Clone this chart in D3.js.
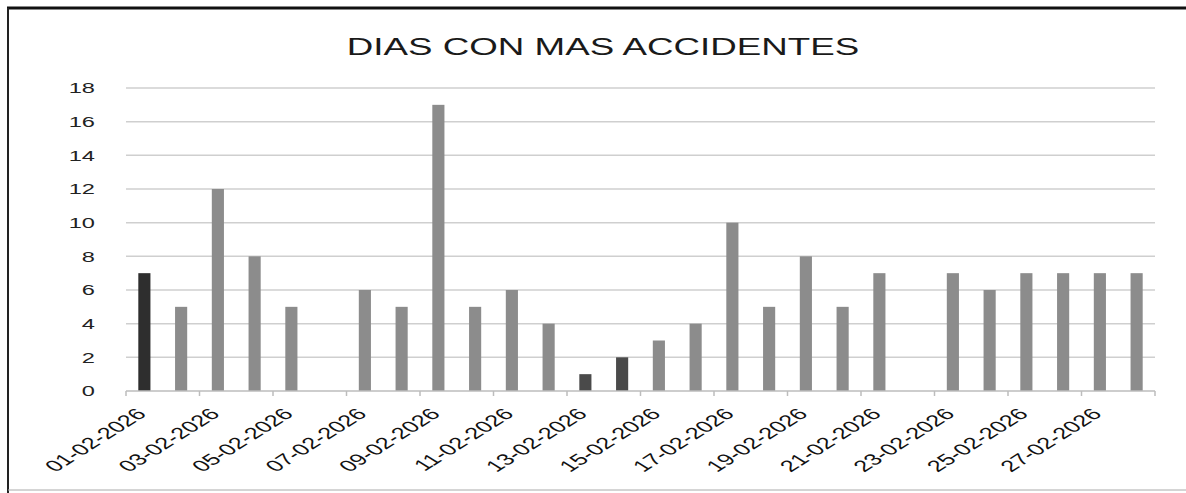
<!DOCTYPE html>
<html>
<head>
<meta charset="utf-8">
<script src="https://cdn.jsdelivr.net/npm/d3@7"></script>
<style>
  body { margin: 0; background: #fff; }
  text { font-family: "Liberation Sans", Arial, sans-serif; }
</style>
</head>
<body>
<script>
const width = 1186,
        height = 493

// chart data
const title = 'DIAS CON MAS ACCIDENTES'
const days = ['01-02-2026','02-02-2026','03-02-2026','04-02-2026','05-02-2026','06-02-2026','07-02-2026',
    '08-02-2026','09-02-2026','10-02-2026','11-02-2026','12-02-2026','13-02-2026','14-02-2026',
    '15-02-2026','16-02-2026','17-02-2026','18-02-2026','19-02-2026','20-02-2026','21-02-2026',
    '22-02-2026','23-02-2026','24-02-2026','25-02-2026','26-02-2026','27-02-2026','28-02-2026']
const accidents = [7, 5, 12, 8, 5, 0, 6, 5, 17, 5, 6, 4, 1, 2, 3, 4, 10, 5, 8, 5, 7, 0, 7, 6, 7, 7, 7, 7]
const yTicks = [0, 2, 4, 6, 8, 10, 12, 14, 16, 18]
// bars that came out darker in the scan
const darkDays = ['01-02-2026', '13-02-2026', '14-02-2026']

// the scanned chart is stretched sideways, so the text is too
const stretch = 'scale(1.75,1.1)'

const data = days.map((d, i) => ({ day: d, value: accidents[i] }))

const svg = d3.select('body').append('svg')
    .attr('width', width)
    .attr('height', height)

const x = d3.scaleBand()
    .domain(days)
    .range([126, 1155])
    .paddingInner(0.67)
    .paddingOuter(0.335)

const y = d3.scaleLinear()
    .domain([0, 18])
    .range([391, 88])

// frame
svg.append('line')
    .attr('x1', 7).attr('x2', width).attr('y1', 8).attr('y2', 8)
    .style('stroke', '#111').style('stroke-width', 3)
svg.append('line')
    .attr('x1', 8).attr('x2', 8).attr('y1', 8).attr('y2', height)
    .style('stroke', '#222').style('stroke-width', 2)
svg.append('line')
    .attr('x1', 8).attr('x2', width).attr('y1', 490).attr('y2', 490)
    .style('stroke', '#aaa').style('stroke-width', 1)

// title
svg.append('text')
    .attr('transform', `translate(603,55) ${stretch}`)
    .attr('text-anchor', 'middle')
    .style('font-size', '21px')
    .style('fill', '#1a1a1a')
    .text(title)

// gridlines
svg.selectAll('.grid')
    .data(yTicks.filter(d => d > 0))
    .enter()
    .append('line')
        .attr('class', 'grid')
        .attr('x1', 126)
        .attr('x2', 1155)
        .attr('y1', d => y(d))
        .attr('y2', d => y(d))
        .style('stroke', '#cfcfcf')
        .style('stroke-width', 1.5)

// y labels
svg.selectAll('.ylab')
    .data(yTicks)
    .enter()
    .append('text')
        .attr('class', 'ylab')
        .attr('transform', d => `translate(95,${y(d)}) ${stretch}`)
        .attr('dy', '0.36em')
        .attr('text-anchor', 'end')
        .style('font-size', '13.5px')
        .style('fill', '#222')
        .text(d => d)

// bars
svg.selectAll('.bar')
    .data(data)
    .enter()
    .append('rect')
        .attr('class', 'bar')
        .attr('x', d => x(d.day))
        .attr('y', d => y(d.value))
        .attr('width', x.bandwidth())
        .attr('height', d => y(0) - y(d.value))
        .style('fill', d => darkDays.includes(d.day) ? (d.day === days[0] ? '#2e2e2e' : '#4a4a4a') : '#8c8c8c')

// x axis line and ticks every two days
svg.append('line')
    .attr('x1', 126).attr('x2', 1155)
    .attr('y1', y(0)).attr('y2', y(0))
    .style('stroke', '#bdbdbd').style('stroke-width', 1.5)

const step = x.step()
svg.selectAll('.xtick')
    .data(days.filter((d, i) => i % 2 === 0).concat(['end']))
    .enter()
    .append('line')
        .attr('class', 'xtick')
        .attr('x1', (d, i) => 126 + i * 2 * step)
        .attr('x2', (d, i) => 126 + i * 2 * step)
        .attr('y1', y(0))
        .attr('y2', y(0) + 5)
        .style('stroke', '#bdbdbd').style('stroke-width', 1.5)

// x labels, every other day
svg.selectAll('.xlab')
    .data(days.filter((d, i) => i % 2 === 0))
    .enter()
    .append('text')
        .attr('class', 'xlab')
        .attr('transform', d => `translate(${x(d) + x.bandwidth() / 2 + 3},415) ${stretch} rotate(-45)`)
        .attr('text-anchor', 'end')
        .style('font-size', '14.5px')
        .style('fill', '#111')
        .text(d => d)
</script>
</body>
</html>
